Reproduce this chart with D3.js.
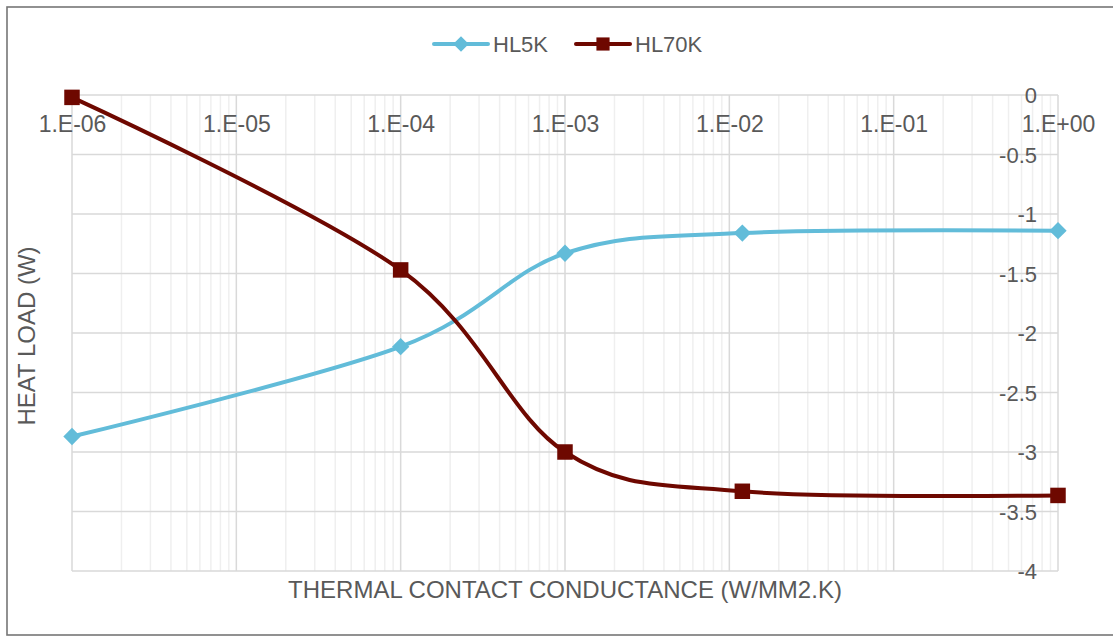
<!DOCTYPE html>
<html>
<head>
<meta charset="utf-8">
<script src="https://cdn.jsdelivr.net/npm/d3@7"></script>
<style>
  html, body { margin: 0; padding: 0; background: #fff; }
  svg { display: block; }
  text { font-family: "Liberation Sans", Arial, sans-serif; fill: #595959; }
</style>
</head>
<body>
<svg id="chart" width="1113" height="637"></svg>
<script>
// Thermal contact conductance (W/mm2.K), log scale
const conductance = [1e-6, 1e-4, 1e-3, 0.012, 1];
// Heat load (W) for each stage
const hl5k  = [-2.87, -2.115, -1.33, -1.16, -1.14];
const hl70k = [-0.02, -1.47, -3.0, -3.33, -3.365];
const seriesNames = ["HL5K", "HL70K"];
const xTickValues = [1e-6, 1e-5, 1e-4, 1e-3, 1e-2, 1e-1, 1];
const yTickValues = [0, -0.5, -1, -1.5, -2, -2.5, -3, -3.5, -4];

const colors = { HL5K: "#62bcd9", HL70K: "#6e0800" };

const svg = d3.select("#chart");
const W = 1113, H = 637;
const plot = { left: 72, right: 1058, top: 95, bottom: 571 };

// Chart area border
svg.append("rect")
  .attr("x", 7).attr("y", 7)
  .attr("width", W + 10).attr("height", 628)
  .attr("fill", "#fff")
  .attr("stroke", "#767676").attr("stroke-width", 1.6);

const x = d3.scaleLog().domain([1e-6, 1]).range([plot.left, plot.right]);
const y = d3.scaleLinear().domain([-4, 0]).range([plot.bottom, plot.top]);

// Minor vertical gridlines (2..9 within each decade)
const minor = [];
for (let e = -6; e < 0; e++) {
  for (let m = 2; m <= 9; m++) minor.push(m * Math.pow(10, e));
}
svg.append("g").selectAll("line").data(minor).join("line")
  .attr("x1", d => x(d)).attr("x2", d => x(d))
  .attr("y1", plot.top).attr("y2", plot.bottom)
  .attr("stroke", "#efefef").attr("stroke-width", 1.5);

// Horizontal gridlines
svg.append("g").selectAll("line").data(yTickValues).join("line")
  .attr("x1", plot.left).attr("x2", plot.right)
  .attr("y1", d => y(d)).attr("y2", d => y(d))
  .attr("stroke", "#d9d9d9").attr("stroke-width", 1.5);

// Major vertical gridlines
svg.append("g").selectAll("line").data(xTickValues).join("line")
  .attr("x1", d => x(d)).attr("x2", d => x(d))
  .attr("y1", plot.top).attr("y2", plot.bottom)
  .attr("stroke", "#d9d9d9").attr("stroke-width", 1.5);

// X axis labels, placed under the zero line
const fmtSci = d => {
  const e = Math.round(Math.log10(d));
  const s = e < 0 ? "-" : "+";
  return "1.E" + s + String(Math.abs(e)).padStart(2, "0");
};
const xAxis = svg.append("g")
  .attr("transform", `translate(0,${plot.top})`)
  .call(d3.axisBottom(x).tickValues(xTickValues).tickFormat(fmtSci).tickSize(0));
xAxis.select(".domain").remove();
xAxis.selectAll("text")
  .attr("y", 37).attr("dy", 0)
  .style("font-size", "23px")
  .attr("fill", "#595959");

// Y axis labels on the right, inside the plot edge
const yAxis = svg.append("g")
  .attr("transform", `translate(${plot.right},0)`)
  .call(d3.axisRight(y).tickValues(yTickValues).tickFormat(d => String(d)).tickSize(0));
yAxis.select(".domain").remove();
yAxis.selectAll("text")
  .attr("x", -21).attr("dy", "0.35em")
  .attr("text-anchor", "end")
  .style("font-size", "22px")
  .attr("fill", "#595959");

// Axis titles
svg.append("text")
  .attr("x", 565)
  .attr("y", 598)
  .attr("text-anchor", "middle")
  .style("font-size", "24px")
  .text("THERMAL CONTACT CONDUCTANCE (W/MM2.K)");

svg.append("text")
  .attr("transform", `translate(35,${(plot.top + plot.bottom) / 2 + 3}) rotate(-90)`)
  .attr("text-anchor", "middle")
  .style("font-size", "24px")
  .text("HEAT LOAD (W)");

// Series lines
const line = d3.line()
  .x(d => x(d[0]))
  .y(d => y(d[1]))
  .curve(d3.curveCatmullRom.alpha(0));

const series = [
  { name: "HL5K", values: hl5k },
  { name: "HL70K", values: hl70k }
];

series.forEach(s => {
  const pts = conductance.map((c, i) => [c, s.values[i]]);
  svg.append("path")
    .attr("d", line(pts))
    .attr("fill", "none")
    .attr("stroke", colors[s.name])
    .attr("stroke-width", 4)
    .attr("stroke-linejoin", "round");
});

// Markers
const diamond = d3.symbol().type(d3.symbolSquare).size(150);
const square = d3.symbol().type(d3.symbolSquare).size(240);
svg.append("g").selectAll("path").data(conductance.map((c, i) => [c, hl5k[i]])).join("path")
  .attr("d", diamond)
  .attr("transform", d => `translate(${x(d[0])},${y(d[1])}) rotate(45)`)
  .attr("fill", colors.HL5K);
svg.append("g").selectAll("path").data(conductance.map((c, i) => [c, hl70k[i]])).join("path")
  .attr("d", square)
  .attr("transform", d => `translate(${x(d[0])},${y(d[1])})`)
  .attr("fill", colors.HL70K);

// Legend
const legend = svg.append("g").attr("transform", "translate(0,44)");
const items = [
  { name: seriesNames[0], x0: 434, marker: diamond, rot: 45 },
  { name: seriesNames[1], x0: 576, marker: square, rot: 0, scale: 0.85 }
];
items.forEach(it => {
  legend.append("line")
    .attr("x1", it.x0).attr("x2", it.x0 + 54)
    .attr("y1", 0).attr("y2", 0)
    .attr("stroke", colors[it.name]).attr("stroke-width", 4)
    .attr("stroke-linecap", "round");
  legend.append("path")
    .attr("d", it.marker)
    .attr("transform", `translate(${it.x0 + 27},0) rotate(${it.rot}) scale(${it.scale || 0.9})`)
    .attr("fill", colors[it.name]);
  legend.append("text")
    .attr("x", it.x0 + 59).attr("y", 0).attr("dy", "0.35em")
    .style("font-size", "22px")
    .text(it.name);
});
</script>
</body>
</html>
